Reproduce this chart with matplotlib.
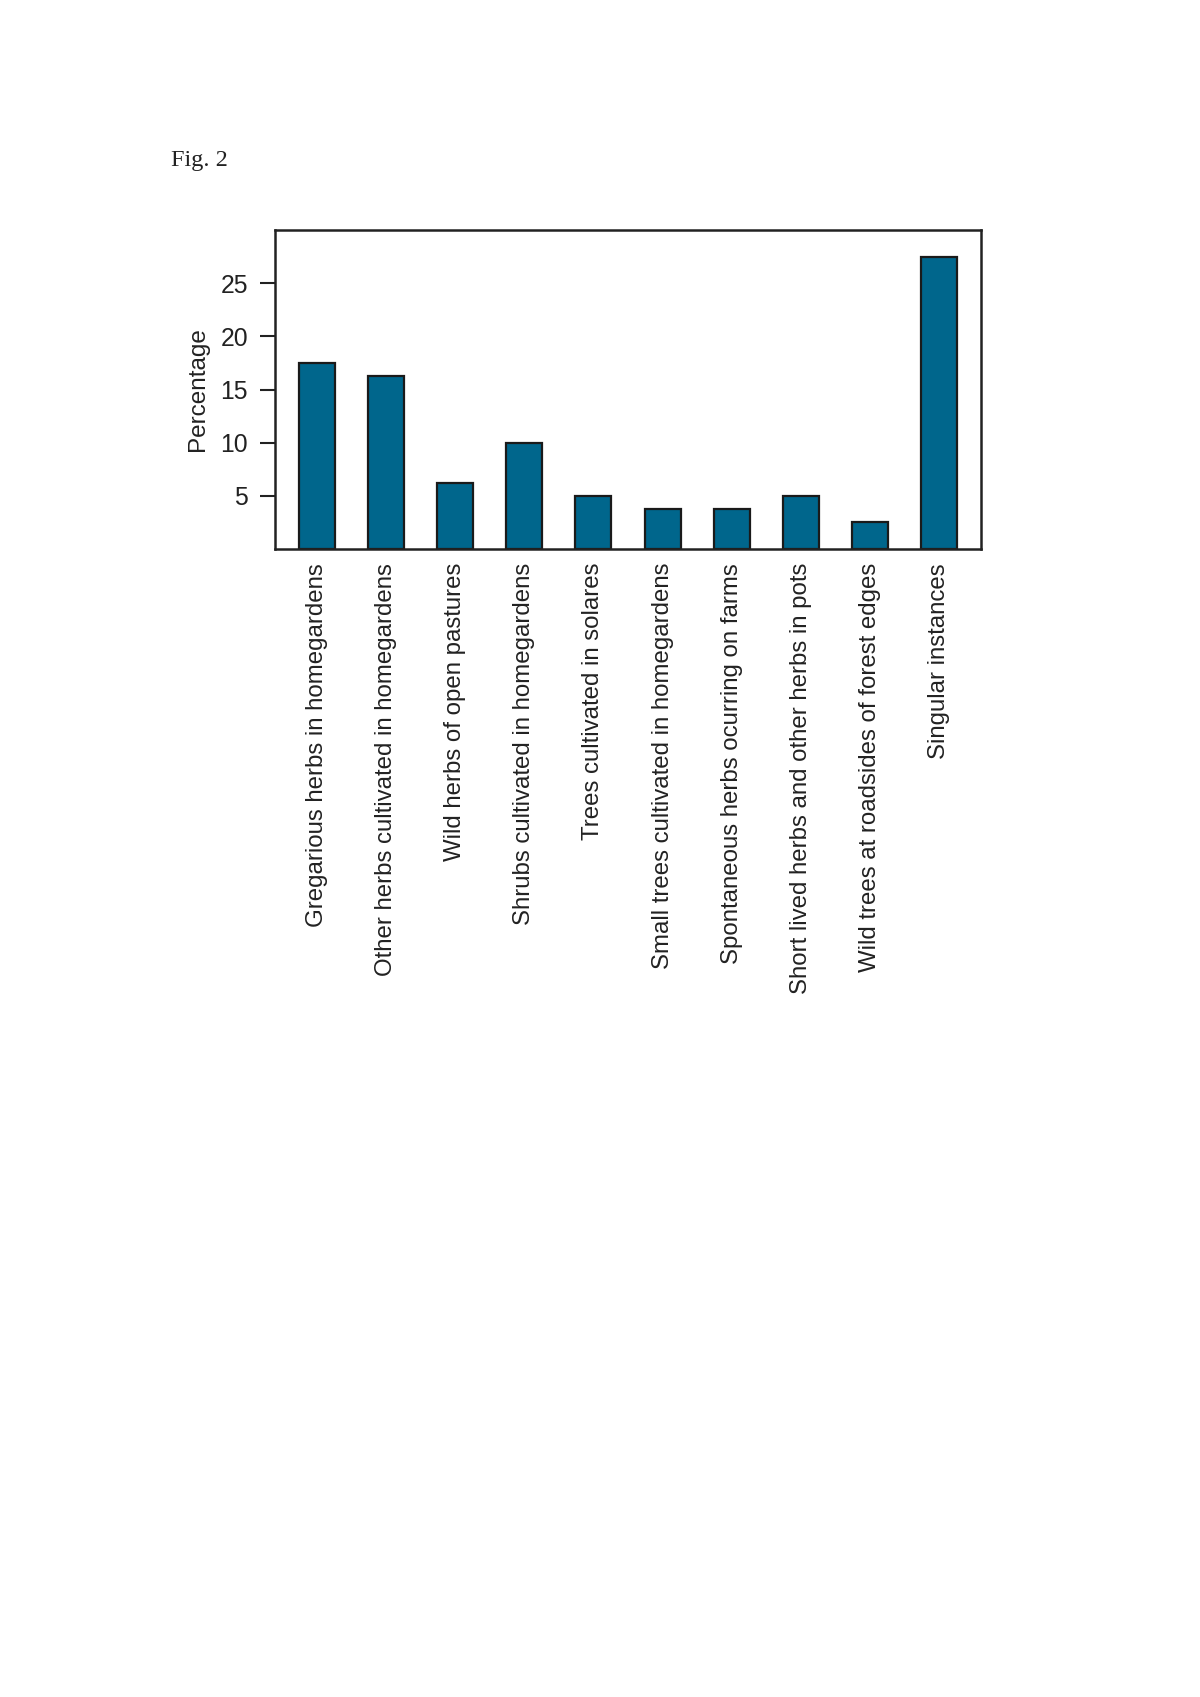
import matplotlib
matplotlib.use('Agg')
import matplotlib.pyplot as plt
import numpy as np

categories = [
    'Gregarious herbs in homegardens',
    'Other herbs cultivated in homegardens',
    'Wild herbs of open pastures',
    'Shrubs cultivated in homegardens',
    'Trees cultivated in solares',
    'Small trees cultivated in homegardens',
    'Spontaneous herbs ocurring on farms',
    'Short lived herbs and other herbs in pots',
    'Wild trees at roadsides of forest edges',
    'Singular instances',
]
percentages = [17.5, 16.25, 6.25, 10.0, 5.0, 3.75, 3.75, 5.0, 2.5, 27.5]
yticks = [5, 10, 15, 20, 25]

plt.rcParams['font.family'] = ['Liberation Sans', 'DejaVu Sans']

W, H = 1200, 1697
fig = plt.figure(figsize=(W / 100, H / 100), dpi=100)

# axes box in pixel coords: left 275, right 981, top 230, bottom 549
ax = fig.add_axes([275 / W, 1 - 549 / H, (981 - 275) / W, (549 - 230) / H])

x = np.arange(len(categories))
ax.bar(x, percentages, width=0.52, color='#00668c', edgecolor='#1a1a1a', linewidth=1.6)

ax.set_xlim(-0.61, len(categories) - 1 + 0.61)
ax.set_ylim(0, 30)
ax.set_yticks(yticks)
ax.set_yticklabels([str(t) for t in yticks], fontsize=17.8, color='#222222')
ax.tick_params(axis='y', length=10.5, width=1.5, pad=9, colors='#222222')
ax.set_xticks(x)
ax.set_xticklabels(categories, rotation=90, fontsize=17.3, color='#222222')
ax.tick_params(axis='x', length=0, pad=10)
ax.set_ylabel('Percentage', fontsize=17.5, color='#222222', labelpad=8)

for s in ax.spines.values():
    s.set_linewidth(1.8)
    s.set_color('#222222')

fig.text(171 / W, 1 - 166 / H, 'Fig. 2', fontsize=17.5, family='Liberation Serif',
         ha='left', va='baseline', color='#222222')

fig.savefig('out.png', dpi=100, facecolor='white')
